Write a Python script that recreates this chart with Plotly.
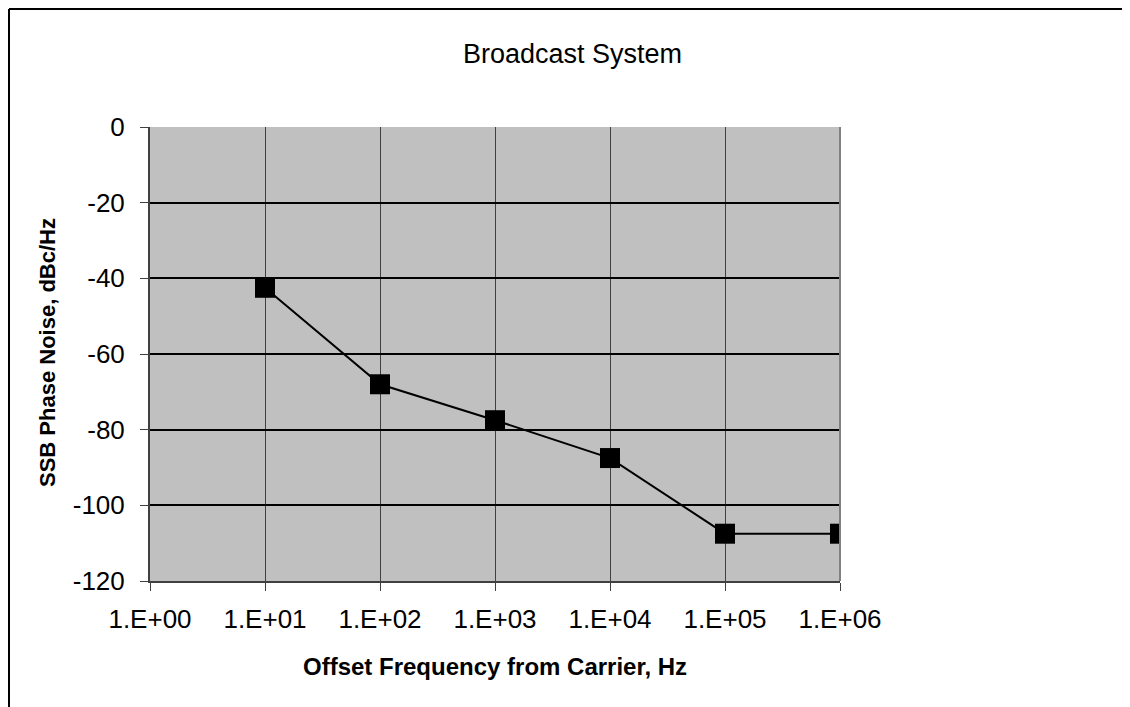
import plotly.graph_objects as go

# Data
freq_hz = [1e1, 1e2, 1e3, 1e4, 1e5, 1e6]
phase_noise_dbc = [-42.5, -68, -77.5, -87.5, -107.5, -107.5]
x_tickvals = [1e0, 1e1, 1e2, 1e3, 1e4, 1e5, 1e6]
x_ticktext = ["1.E+00", "1.E+01", "1.E+02", "1.E+03", "1.E+04", "1.E+05", "1.E+06"]
y_tickvals = [0, -20, -40, -60, -80, -100, -120]
y_ticktext = ["0", "-20", "-40", "-60", "-80", "-100", "-120"]

OFF = 8  # page body margin offset
W, H = 1130 - OFF, 707 - OFF
L, R, T, B = 150 - OFF, 840 - OFF, 127 - OFF, 581 - OFF
pw, ph = R - L, B - T

def px_x(x):
    return (x - OFF - L) / pw

def px_y(y):
    return (B - (y - OFF)) / ph

FONT = "Liberation Sans, Arial, sans-serif"

fig = go.Figure()
fig.add_trace(go.Scatter(
    x=freq_hz, y=phase_noise_dbc, mode="lines+markers",
    line=dict(color="black", width=2),
    marker=dict(symbol="square", size=20, color="black"),
    showlegend=False, hoverinfo="x+y",
))

fig.update_layout(
    width=W, height=H,
    margin=dict(l=L, r=W - R, t=T, b=H - B, autoexpand=False),
    paper_bgcolor="white", plot_bgcolor="#C0C0C0",
    font=dict(family=FONT, size=26, color="black"),
    title=dict(text="Broadcast System", x=(572.5 - OFF) / W, xanchor="center",
               y=1 - (54 - OFF) / H, yanchor="middle", font=dict(size=27)),
    xaxis=dict(type="log", range=[0, 6], tickvals=x_tickvals, ticktext=x_ticktext,
               showgrid=True, gridcolor="#404040", gridwidth=1,
               showline=True, linecolor="#404040", linewidth=2,
               ticks="outside", ticklen=8, tickcolor="#404040", tickwidth=1,
               ticklabelstandoff=6, zeroline=False),
    yaxis=dict(range=[-120, 0], tickvals=y_tickvals, ticktext=y_ticktext,
               showgrid=True, gridcolor="black", gridwidth=2,
               showline=True, linecolor="#404040", linewidth=2,
               ticks="outside", ticklen=8, tickcolor="#404040", tickwidth=1,
               ticklabelstandoff=10, zeroline=False),
    annotations=[
        dict(text="<b>Offset Frequency from Carrier, Hz</b>", xref="paper", yref="paper",
             x=0.5, y=px_y(666), xanchor="center", yanchor="middle", showarrow=False,
             font=dict(size=24)),
        dict(text="<b>SSB Phase Noise, dBc/Hz</b>", xref="paper", yref="paper",
             x=px_x(47), y=px_y(353), xanchor="center", yanchor="middle", showarrow=False,
             textangle=-90, font=dict(size=22)),
    ],
    shapes=[
        dict(type="line", xref="paper", yref="paper", x0=px_x(9), x1=px_x(1200),
             y0=px_y(9), y1=px_y(9), line=dict(color="black", width=2)),
        dict(type="line", xref="paper", yref="paper", x0=px_x(9), x1=px_x(9),
             y0=px_y(9), y1=px_y(760), line=dict(color="black", width=2)),
        dict(type="line", xref="paper", yref="paper", x0=1, x1=1, y0=0, y1=1,
             line=dict(color="#808080", width=2), layer="above"),
    ],
)

fig.write_html("out.html")
